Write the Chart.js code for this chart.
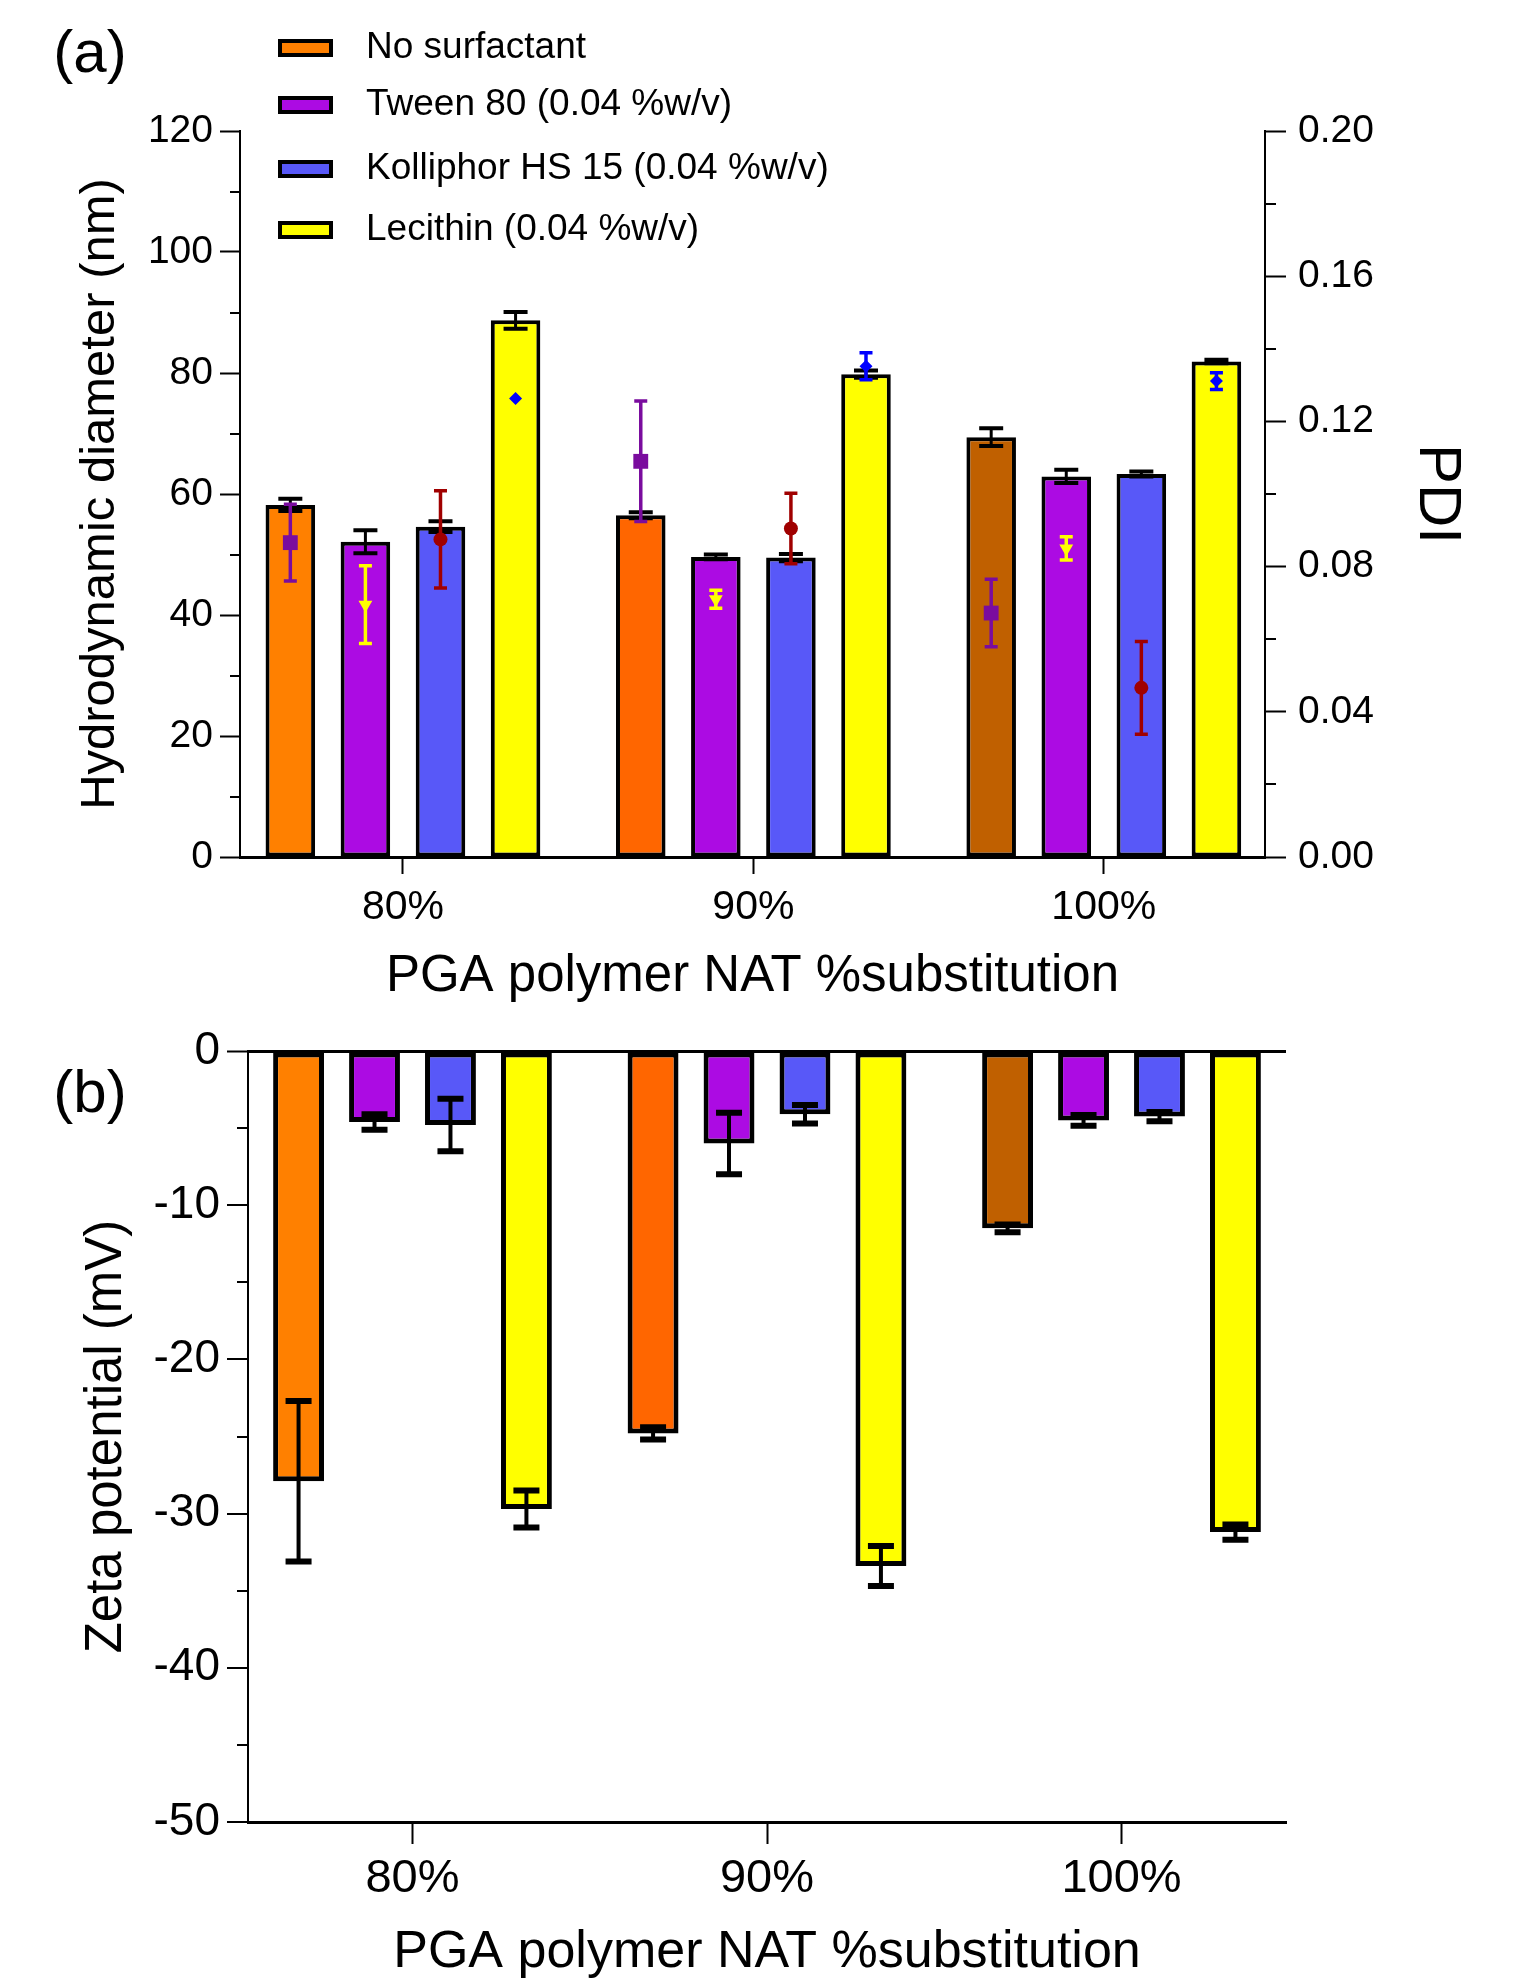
<!DOCTYPE html>
<html>
<head>
<meta charset="utf-8">
<title>Particle size, PDI and zeta potential</title>
<script src="https://cdn.jsdelivr.net/npm/chart.js@4.4.1/dist/chart.umd.min.js"></script>
<style>
  html, body { margin: 0; padding: 0; background: #fff; }
  #wrap { position: relative; width: 1515px; height: 1987px; }
  canvas { position: absolute; left: 0; }
  #cTop { top: 0; }
  #cBottom { top: 1010px; }
</style>
</head>
<body>
<div id="wrap">
  <canvas id="cTop" width="1515" height="1010"></canvas>
  <canvas id="cBottom" width="1515" height="977"></canvas>
</div>
<script>
// --- data -------------------------------------------------------------
const categories = ['80%', '90%', '100%'];
const seriesNames = ['No surfactant', 'Tween 80 (0.04 %w/v)', 'Kolliphor HS 15 (0.04 %w/v)', 'Lecithin (0.04 %w/v)'];

// hydrodynamic diameter (nm), mean and error
const sizeNoSurf = [58.2, 56.5, 69.4];
const sizeNoSurfErr = [1.0, 0.5, 1.45];
const sizeTween = [52.1, 49.6, 62.9];
const sizeTweenErr = [1.9, 0.4, 1.1];
const sizeKolli = [54.6, 49.5, 63.3];
const sizeKolliErr = [0.9, 0.6, 0.4];
const sizeLeci = [88.7, 79.8, 81.9];
const sizeLeciErr = [1.4, 0.6, 0.3];

// PDI (right axis)
const pdiNoSurf = [0.0866, 0.109, 0.0672];
const pdiNoSurfErr = [0.0106, 0.0166, 0.0093];
const pdiTween = [0.0695, 0.071, 0.085];
const pdiTweenErr = [0.0107, 0.0025, 0.0032];
const pdiKolli = [0.0875, 0.0905, 0.0466];
const pdiKolliErr = [0.0134, 0.0097, 0.0128];
const pdiLeci = [0.1263, 0.1352, 0.1311];
const pdiLeciErr = [0, 0.0037, 0.0023];

// zeta potential (mV)
const zetaNoSurf = [-27.9, -24.8, -11.5];
const zetaNoSurfErr = [5.2, 0.4, 0.25];
const zetaTween = [-4.6, -6.0, -4.5];
const zetaTweenErr = [0.5, 2.0, 0.35];
const zetaKolli = [-4.8, -4.1, -4.25];
const zetaKolliErr = [1.7, 0.6, 0.3];
const zetaLeci = [-29.7, -33.4, -31.2];
const zetaLeciErr = [1.2, 1.3, 0.5];

// minor tick positions
const sizeMinor = [10, 30, 50, 70, 90, 110];
const pdiMinor = [0.02, 0.06, 0.10, 0.14, 0.18];
const zetaMinor = [-5, -15, -25, -35, -45];

// --- styles -----------------------------------------------------------
const FONT = '"Liberation Sans", Arial, sans-serif';
Chart.defaults.font.family = FONT;
Chart.defaults.color = '#000';

const barColors = [['#FF8000', '#FF6600', '#C06000'], '#AC0BE3', '#5858F8', '#FFFF00'];
const legendColors = ['#FF8000', '#AC0BE3', '#5858F8', '#FFFF00'];
const legendRows = [48, 105, 169, 230];
const pdiStyle = [
  { style: 'rect', rot: 0, r: 10.5, color: '#7A0C9E' },
  { style: 'triangle', rot: 180, r: 8, color: '#FFFF00' },
  { style: 'circle', rot: 0, r: 7, color: '#A00000' },
  { style: 'rectRot', rot: 0, r: 6.5, color: '#0000FF' }
];

const sizeVals = [sizeNoSurf, sizeTween, sizeKolli, sizeLeci];
const sizeErrs = [sizeNoSurfErr, sizeTweenErr, sizeKolliErr, sizeLeciErr];
const pdiVals = [pdiNoSurf, pdiTween, pdiKolli, pdiLeci];
const pdiErrs = [pdiNoSurfErr, pdiTweenErr, pdiKolliErr, pdiLeciErr];
const zetaVals = [zetaNoSurf, zetaTween, zetaKolli, zetaLeci];
const zetaErrs = [zetaNoSurfErr, zetaTweenErr, zetaKolliErr, zetaLeciErr];

function barSets(vals, errs, bw, pct) {
  return seriesNames.map((name, k) => ({
    label: name,
    data: vals[k].map((v, i) => ({ x: i, y: v })),
    err: errs[k],
    backgroundColor: barColors[k],
    borderColor: '#000',
    borderWidth: bw,
    borderSkipped: false,
    categoryPercentage: 0.857,
    barPercentage: pct
  }));
}

// --- plugins ----------------------------------------------------------
function errLine(ctx, x, yHi, yLo, half, lw, capLw, color) {
  ctx.save();
  ctx.strokeStyle = color;
  ctx.lineWidth = lw;
  ctx.beginPath(); ctx.moveTo(x, yHi); ctx.lineTo(x, yLo); ctx.stroke();
  ctx.lineWidth = capLw;
  ctx.beginPath();
  ctx.moveTo(x - half, yHi); ctx.lineTo(x + half, yHi);
  ctx.moveTo(x - half, yLo); ctx.lineTo(x + half, yLo);
  ctx.stroke();
  ctx.restore();
}

function barErrors(half, lw, capLw) {
  return {
    id: 'barErrors',
    afterDatasetsDraw(chart) {
      const s = chart.scales.y;
      chart.data.datasets.forEach((ds, k) => {
        chart.getDatasetMeta(k).data.forEach((bar, i) => {
          const v = ds.data[i].y, e = ds.err[i];
          errLine(chart.ctx, bar.x, s.getPixelForValue(v + e), s.getPixelForValue(v - e), half, lw, capLw, '#000');
        });
      });
    }
  };
}

const pdiMarks = {
  id: 'pdiMarks',
  afterDatasetsDraw(chart) {
    const ctx = chart.ctx, s = chart.scales.y2;
    pdiVals.forEach((vals, k) => {
      const st = pdiStyle[k];
      chart.getDatasetMeta(k).data.forEach((bar, i) => {
        const v = vals[i], e = pdiErrs[k][i];
        if (e > 0) errLine(ctx, bar.x, s.getPixelForValue(v + e), s.getPixelForValue(v - e), 6.5, 3.5, 3.5, st.color);
        ctx.save();
        ctx.fillStyle = st.color;
        ctx.strokeStyle = st.color;
        Chart.helpers.drawPoint(ctx, { pointStyle: st.style, rotation: st.rot, radius: st.r, borderWidth: 0 }, bar.x, s.getPixelForValue(v));
        ctx.restore();
      });
    });
  }
};

function minorTicks(list) {
  return {
    id: 'minorTicks',
    afterDraw(chart) {
      const ctx = chart.ctx;
      ctx.save();
      ctx.strokeStyle = '#000';
      ctx.lineWidth = 2;
      list.forEach(m => {
        const s = chart.scales[m.id];
        const x0 = m.id === 'y2' ? s.left : s.right;
        const x1 = m.id === 'y2' ? s.left + m.len : s.right - m.len;
        m.values.forEach(v => {
          const y = Math.round(s.getPixelForValue(v));
          ctx.beginPath(); ctx.moveTo(x0, y); ctx.lineTo(x1, y); ctx.stroke();
        });
      });
      ctx.restore();
    }
  };
}

function panelLabel(text, x, y) {
  return {
    id: 'panelLabel',
    afterDraw(chart) {
      const ctx = chart.ctx;
      ctx.save();
      ctx.fillStyle = '#000';
      ctx.font = '60px ' + FONT;
      ctx.textAlign = 'center';
      ctx.textBaseline = 'middle';
      ctx.fillText(text, x, y);
      ctx.restore();
    }
  };
}

const legendBox = {
  id: 'legendBox',
  afterDraw(chart) {
    const ctx = chart.ctx;
    ctx.save();
    ctx.font = '37px ' + FONT;
    ctx.textAlign = 'left';
    ctx.textBaseline = 'middle';
    seriesNames.forEach((name, k) => {
      const cy = legendRows[k];
      ctx.fillStyle = legendColors[k];
      ctx.fillRect(278, cy - 9, 55, 18);
      ctx.strokeStyle = '#000';
      ctx.lineWidth = 4;
      ctx.strokeRect(280, cy - 7, 51, 14);
      ctx.fillStyle = '#000';
      ctx.fillText(name, 366, cy);
    });
    ctx.restore();
  }
};

const common = {
  responsive: false,
  animation: false,
  events: [],
  plugins: { legend: { display: false }, tooltip: { enabled: false } }
};

function xAxis(min, max, height, tickFont, tickPad, tickLen, titleFont, titlePad) {
  return {
    type: 'linear', position: 'bottom', min, max, offset: false,
    afterBuildTicks: s => { s.ticks = categories.map((c, i) => ({ value: i })); },
    afterFit: s => { s.height = height; },
    ticks: { callback: v => categories[v], font: { size: tickFont, lineHeight: 1 }, padding: tickPad, maxRotation: 0, autoSkip: false, color: '#000' },
    grid: { offset: false, drawOnChartArea: false, drawTicks: true, tickLength: tickLen, tickWidth: 2, tickColor: '#000' },
    border: { display: true, color: '#000', width: 3 },
    title: { display: true, text: 'PGA polymer NAT %substitution', color: '#000', font: { size: titleFont, lineHeight: 1 }, padding: { top: 0, bottom: titlePad } }
  };
}

// --- (a) size + PDI ---------------------------------------------------
new Chart(document.getElementById('cTop'), {
  type: 'bar',
  data: { datasets: barSets(sizeVals, sizeErrs, 4, 0.66) },
  options: {
    ...common,
    layout: { padding: { top: 131, left: 0, right: 0, bottom: 0 } },
    scales: {
      x: xAxis(-0.465, 2.46, 153, 41, 13, 17, 51, 8),
      y: {
        position: 'left', min: 0, max: 120,
        afterFit: s => { s.width = 240; },
        ticks: { stepSize: 20, font: { size: 39, lineHeight: 1 }, padding: 7, color: '#000' },
        grid: { drawOnChartArea: false, tickLength: 20, tickWidth: 2, tickColor: '#000' },
        border: { color: '#000', width: 2 },
        title: { display: true, text: 'Hydrodynamic diameter (nm)', color: '#000', font: { size: 49, lineHeight: 1 }, padding: { top: 76, bottom: 0 } }
      },
      y2: {
        position: 'right', min: 0, max: 0.2,
        afterFit: s => { s.width = 250; },
        ticks: { stepSize: 0.04, callback: v => v.toFixed(2), font: { size: 39, lineHeight: 1 }, padding: 12, color: '#000' },
        grid: { drawOnChartArea: false, tickLength: 21, tickWidth: 2, tickColor: '#000' },
        border: { color: '#000', width: 2 },
        title: { display: true, text: 'PDI', color: '#000', font: { size: 60, lineHeight: 1 }, padding: { top: 48, bottom: 0 } }
      }
    }
  },
  plugins: [barErrors(12, 3, 4), pdiMarks,
    minorTicks([{ id: 'y', values: sizeMinor, len: 10 }, { id: 'y2', values: pdiMinor, len: 11 }]),
    panelLabel('(a)', 90, 55), legendBox]
});

// --- (b) zeta potential -----------------------------------------------
new Chart(document.getElementById('cBottom'), {
  type: 'bar',
  data: { datasets: barSets(zetaVals, zetaErrs, 5, 0.67) },
  options: {
    ...common,
    layout: { padding: { top: 41, left: 0, right: 229, bottom: 0 } },
    scales: {
      x: xAxis(-0.464, 2.464, 165, 47, 12, 22, 52, 8),
      y: {
        position: 'left', min: -50, max: 0,
        afterFit: s => { s.width = 248; },
        ticks: { stepSize: 10, font: { size: 46, lineHeight: 1 }, padding: 7, color: '#000' },
        grid: {
          drawOnChartArea: true,
          color: c => (c.tick && c.tick.value === 0 ? '#000' : 'rgba(0,0,0,0)'),
          lineWidth: c => (c.tick && c.tick.value === 0 ? 3 : 0),
          tickLength: 21, tickWidth: 2, tickColor: '#000'
        },
        border: { color: '#000', width: 2 },
        title: { display: true, text: 'Zeta potential (mV)', color: '#000', font: { size: 51, lineHeight: 1 }, padding: { top: 81, bottom: 0 } }
      }
    }
  },
  plugins: [barErrors(13, 4, 6),
    minorTicks([{ id: 'y', values: zetaMinor, len: 11 }]),
    panelLabel('(b)', 90, 85)]
});
</script>
</body>
</html>
